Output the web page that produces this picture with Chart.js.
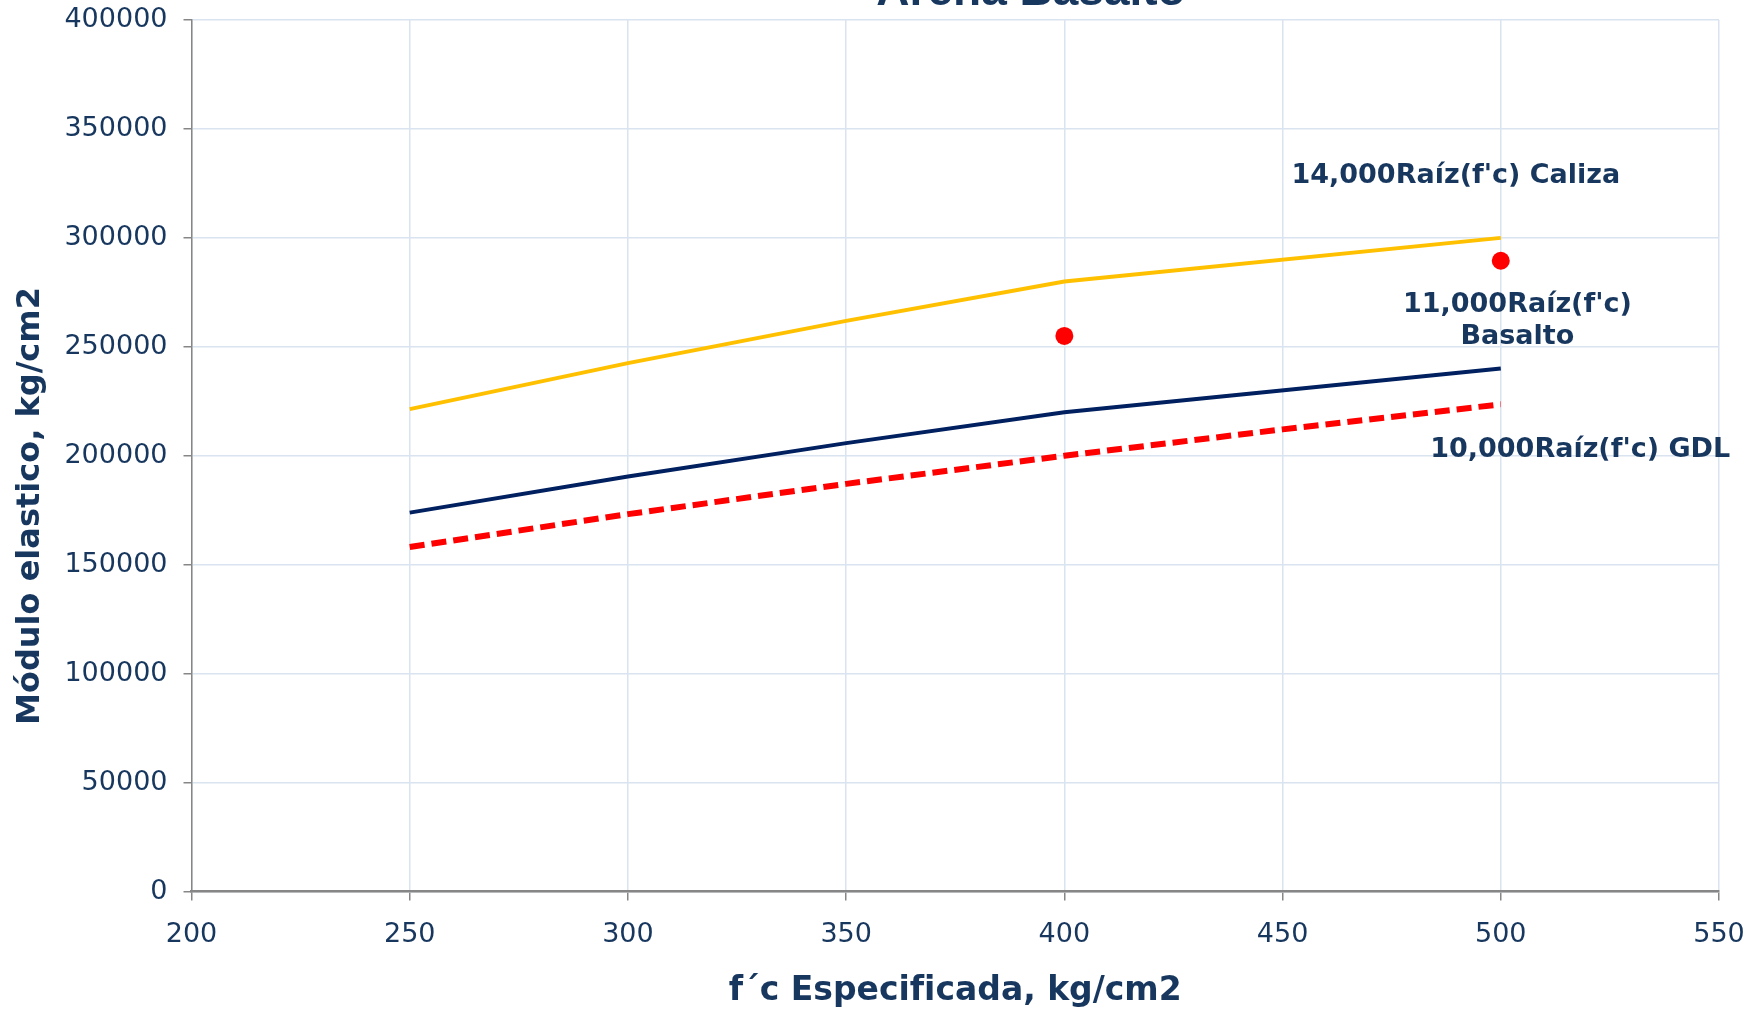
<!DOCTYPE html>
<html lang="es">
<head>
<meta charset="UTF-8">
<script src="https://cdn.jsdelivr.net/npm/chart.js"></script>
<title>Arena Basalto</title>
<style>
  html, body { margin: 0; padding: 0; background: #ffffff; }
  #grafico { display: block; }
</style>
</head>
<body>
<canvas id="grafico" width="1756" height="1009"></canvas>
<script>
// datos
const fcCaliza = [250, 300, 350, 400, 500];
const moduloCaliza = [221400, 242500, 261900, 280000, 300000];

const fcBasalto = [250, 300, 350, 400, 500];
const moduloBasalto = [173900, 190500, 205800, 220000, 240000];

const fcGdl = [250, 300, 350, 400, 450, 500];
const moduloGdl = [158100, 173200, 187100, 200000, 212100, 223600];

const fcMedido = [400, 500];
const moduloMedido = [255000, 289500];

const ticksX = [200, 250, 300, 350, 400, 450, 500, 550];
const ticksY = [0, 50000, 100000, 150000, 200000, 250000, 300000, 350000, 400000];

const etiquetas = ["14,000Raíz(f'c) Caliza", ["11,000Raíz(f'c)", "Basalto"], "10,000Raíz(f'c) GDL"];
const etiquetasFc = [489.7, 503.8, 518.2];
const etiquetasModulo = [328500, 262000, 202600];

const azulTexto = '#17375E';
const fuente = '"DejaVu Sans", Verdana, sans-serif';

function puntos(xs, ys) {
  return xs.map(function (x, i) { return { x: x, y: ys[i] }; });
}

// titulo (queda cortado arriba como en la original), titulo del eje y, etiquetas de curvas
const textos = {
  id: 'textos',
  afterDraw: function (chart) {
    const ctx = chart.ctx;
    const sx = chart.scales.x;
    const sy = chart.scales.y;
    ctx.save();
    ctx.fillStyle = azulTexto;
    ctx.textAlign = 'center';

    ctx.font = 'bold 46px "Liberation Sans", Arial, sans-serif';
    ctx.textBaseline = 'alphabetic';
    ctx.fillText('Arena Basalto', 1031, 5);

    // eje y: en la original no esta centrado en el area de trazo
    ctx.save();
    ctx.translate(31, 506);
    ctx.rotate(-Math.PI / 2);
    ctx.textBaseline = 'middle';
    ctx.font = 'bold 32px ' + fuente;
    ctx.fillText('Módulo elastico, kg/cm2', 0, 0);
    ctx.restore();

    ctx.font = 'bold 27px ' + fuente;
    ctx.textBaseline = 'middle';
    for (let i = 0; i < etiquetas.length; i++) {
      const lineas = Array.isArray(etiquetas[i]) ? etiquetas[i] : [etiquetas[i]];
      const px = sx.getPixelForValue(etiquetasFc[i]);
      const py = sy.getPixelForValue(etiquetasModulo[i]);
      const alto = 32;
      const inicio = py - (lineas.length - 1) * alto / 2;
      lineas.forEach(function (t, j) {
        ctx.fillText(t, px, inicio + j * alto);
      });
    }
    ctx.restore();
  }
};

const config = {
  type: 'scatter',
  data: {
    datasets: [
      {
        label: "14,000Raíz(f'c) Caliza",
        data: puntos(fcCaliza, moduloCaliza),
        showLine: true,
        borderColor: '#FFC000',
        backgroundColor: '#FFC000',
        borderWidth: 4,
        pointRadius: 0,
        tension: 0
      },
      {
        label: "11,000Raíz(f'c) Basalto",
        data: puntos(fcBasalto, moduloBasalto),
        showLine: true,
        borderColor: '#002060',
        backgroundColor: '#002060',
        borderWidth: 4,
        pointRadius: 0,
        tension: 0
      },
      {
        label: "10,000Raíz(f'c) GDL",
        data: puntos(fcGdl, moduloGdl),
        showLine: true,
        borderColor: '#FF0000',
        backgroundColor: '#FF0000',
        borderWidth: 6,
        borderDash: [15, 7],
        pointRadius: 0,
        tension: 0
      },
      {
        label: 'Medido',
        data: puntos(fcMedido, moduloMedido),
        showLine: false,
        borderColor: '#FF0000',
        backgroundColor: '#FF0000',
        pointRadius: 9,
        pointBorderWidth: 0
      }
    ]
  },
  options: {
    responsive: false,
    animation: false,
    layout: { padding: { top: 20, right: 37, left: 0, bottom: 0 } },
    plugins: {
      legend: { display: false },
      tooltip: { enabled: false }
    },
    scales: {
      x: {
        type: 'linear',
        min: 200,
        max: 550,
        afterBuildTicks: function (s) { s.ticks = ticksX.map(function (v) { return { value: v }; }); },
        afterFit: function (s) {
          s.height = 117.5;
          s.paddingLeft = 0;
          s.paddingRight = 0;
        },
        border: { color: '#868686', width: 2.5 },
        grid: { color: '#DAE3F0', lineWidth: 1.5, tickColor: '#868686', tickLength: 9 },
        ticks: {
          color: azulTexto,
          font: { family: fuente, size: 27 },
          padding: 18,
          maxRotation: 0
        },
        title: {
          display: true,
          text: 'f´c Especificada, kg/cm2',
          color: azulTexto,
          font: { family: fuente, size: 33, weight: 'bold' },
          padding: { top: 0, bottom: -2 }
        }
      },
      y: {
        type: 'linear',
        min: 0,
        max: 400000,
        afterBuildTicks: function (s) { s.ticks = ticksY.map(function (v) { return { value: v }; }); },
        afterFit: function (s) {
          s.width = 191.5;
          s.paddingTop = 0;
          s.paddingBottom = 0;
        },
        border: { color: '#868686', width: 1.5 },
        grid: { color: '#DAE3F0', lineWidth: 1.5, tickColor: '#868686', tickLength: 8 },
        ticks: {
          color: azulTexto,
          font: { family: fuente, size: 27 },
          padding: 16,
          callback: function (v) { return String(v); }
        }
      }
    }
  },
  plugins: [textos]
};

new Chart(document.getElementById('grafico'), config);
</script>
</body>
</html>
